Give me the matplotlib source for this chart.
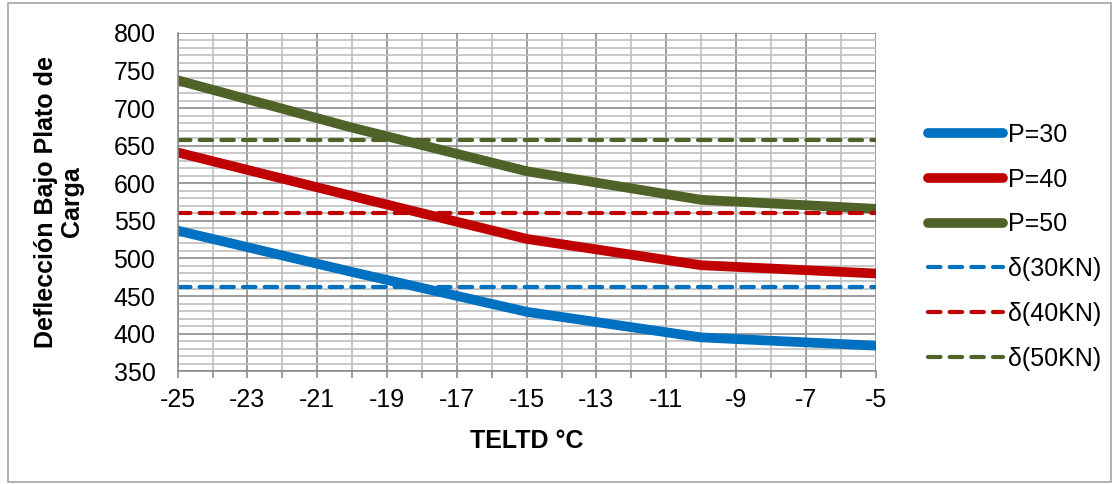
import matplotlib
matplotlib.use("Agg")
import matplotlib.pyplot as plt
from matplotlib.patches import Rectangle

plt.rcParams['font.family'] = ['Liberation Sans', 'DejaVu Sans']
plt.rcParams['axes.unicode_minus'] = False

temps = [-25, -20, -15, -10, -5]
p30 = [537, 482, 429, 395, 384]
p40 = [641, 583, 526, 491, 480]
p50 = [737, 674, 616, 578, 566]
d30 = 462
d40 = 560
d50 = 657
xticks = list(range(-25, -4, 2))
yticks = list(range(350, 801, 50))

blue = '#0070C0'
red = '#C00000'
green = '#4F6228'

fig = plt.figure(figsize=(11.17, 4.84), dpi=100)
ax = fig.add_axes([0.159, 0.233, 0.625, 0.699])

ax.plot(temps, p30, color=blue, lw=7, solid_capstyle='round', label='P=30')
ax.plot(temps, p40, color=red, lw=7, solid_capstyle='round', label='P=40')
ax.plot(temps, p50, color=green, lw=7, solid_capstyle='round', label='P=50')
xs = [temps[0], temps[-1]]
ax.plot(xs, [d30, d30], color=blue, lw=3, ls=(0, (3, 2.2)), dash_capstyle='round', label='δ(30KN)')
ax.plot(xs, [d40, d40], color=red, lw=3, ls=(0, (3, 2.2)), dash_capstyle='round', label='δ(40KN)')
ax.plot(xs, [d50, d50], color=green, lw=3, ls=(0, (3, 2.2)), dash_capstyle='round', label='δ(50KN)')

ax.set_xlim(-25, -5)
ax.set_ylim(350, 800)
ax.set_xticks(xticks)
ax.set_xticks(list(range(-24, -5, 2)), minor=True)
ax.set_yticks(yticks)
ax.set_yticks([v for v in range(360, 800, 10) if v % 50], minor=True)
ax.grid(which='major', color='#8C8C8C', lw=1.2)
ax.grid(which='minor', color='#BFBFBF', lw=1.2)
ax.set_axisbelow(True)
for s in ['top', 'right']:
    ax.spines[s].set_visible(False)
for s in ['left', 'bottom']:
    ax.spines[s].set_color('#8C8C8C')
    ax.spines[s].set_linewidth(1.2)
ax.tick_params(which='both', axis='x', direction='out', length=5, color='#8C8C8C', width=1.2)
ax.tick_params(which='both', axis='y', length=0)
ax.tick_params(axis='both', labelsize=18)
ax.tick_params(axis='y', pad=16)
ax.tick_params(axis='x', pad=7)

ax.set_xlabel('TELTD °C', fontsize=18, fontweight='bold', labelpad=12)
ax.set_ylabel('Deflección Bajo Plato de\nCarga', fontsize=18, fontweight='bold', labelpad=21, linespacing=1.1)

leg = ax.legend(loc='center left', bbox_to_anchor=(1.042, 0.368), frameon=False, fontsize=18,
                handlelength=3.0, handletextpad=0.2, labelspacing=0.83, borderpad=0.4)

fig.patches.append(Rectangle((0.007, 0.005), 0.988, 0.988, transform=fig.transFigure,
                             fill=False, edgecolor='#A6A6A6', lw=1.2))

fig.savefig('out.png', dpi=100)
